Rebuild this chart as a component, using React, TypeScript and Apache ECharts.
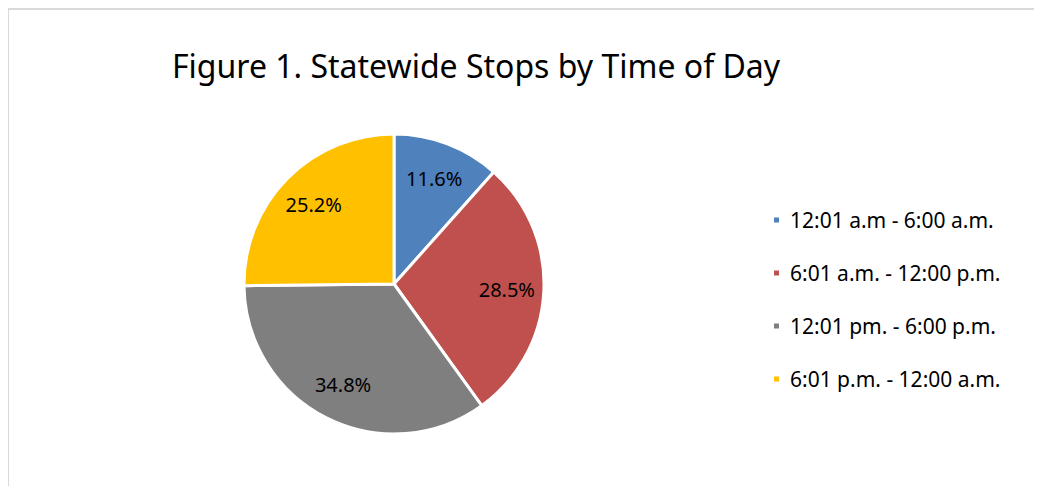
import React, { useEffect, useRef } from "react";
import * as echarts from "echarts";

const titleText = "Figure 1. Statewide Stops by Time of Day";
const categories = [
  "12:01 a.m - 6:00 a.m.",
  "6:01 a.m. - 12:00 p.m.",
  "12:01 pm. - 6:00 p.m.",
  "6:01 p.m. - 12:00 a.m.",
];
const values = [11.6, 28.5, 34.8, 25.2];
const colors = ["#4F81BD", "#C0504D", "#7F7F7F", "#FFC000"];

const FONT = "'Noto Sans', 'Open Sans', sans-serif";

export default function App() {
  const ref = useRef<HTMLDivElement>(null);
  useEffect(() => {
    if (!ref.current) return;
    const chart = echarts.init(ref.current, undefined, { renderer: "svg" });
    const data = categories.map((name, i) => ({
      name,
      value: values[i],
      itemStyle: { color: colors[i] },
    }));
    chart.setOption({
      animation: false,
      textStyle: { fontFamily: FONT },
      title: {
        text: titleText,
        left: 159,
        top: 36,
        textStyle: { fontFamily: FONT, fontSize: 32, fontWeight: "normal", color: "#000" },
      },
      graphic: [
        { type: "line", shape: { x1: 0, y1: 1, x2: 1034, y2: 1 }, style: { stroke: "#D9D9D9", lineWidth: 2 } },
        { type: "line", shape: { x1: 0, y1: 0, x2: 0, y2: 478 }, style: { stroke: "#D9D9D9", lineWidth: 2 } },
      ],
      legend: {
        orient: "vertical",
        left: 764,
        top: 200,
        padding: 0,
        icon: "rect",
        itemWidth: 7,
        itemHeight: 7,
        itemGap: 29,
        data: categories,
        textStyle: { fontFamily: FONT, fontSize: 21, color: "#000", lineHeight: 24, padding: [0, 0, 0, 5] },
      },
      series: [
        {
          type: "pie",
          center: [386, 276],
          radius: [0, 150],
          startAngle: 90,
          clockwise: true,
          data,
          itemStyle: { borderColor: "#fff", borderWidth: 3 },
          label: { show: false },
          labelLine: { show: false },
          emphasis: { disabled: true },
        },
        {
          type: "pie",
          center: [386, 276],
          radius: [70, 150],
          startAngle: 90,
          clockwise: true,
          silent: true,
          data: categories.map((name, i) => ({ name, value: values[i] })),
          itemStyle: { color: "rgba(0,0,0,0)", borderWidth: 0 },
          label: {
            show: true,
            position: "inside",
            formatter: (p: any) => p.value.toFixed(1) + "%",
            fontFamily: FONT,
            fontSize: 20,
            color: "#000",
          },
          labelLine: { show: false },
          emphasis: { disabled: true },
        },
      ],
    });
    return () => chart.dispose();
  }, []);
  return <div ref={ref} style={{ width: 1034, height: 478 }} />;
}
